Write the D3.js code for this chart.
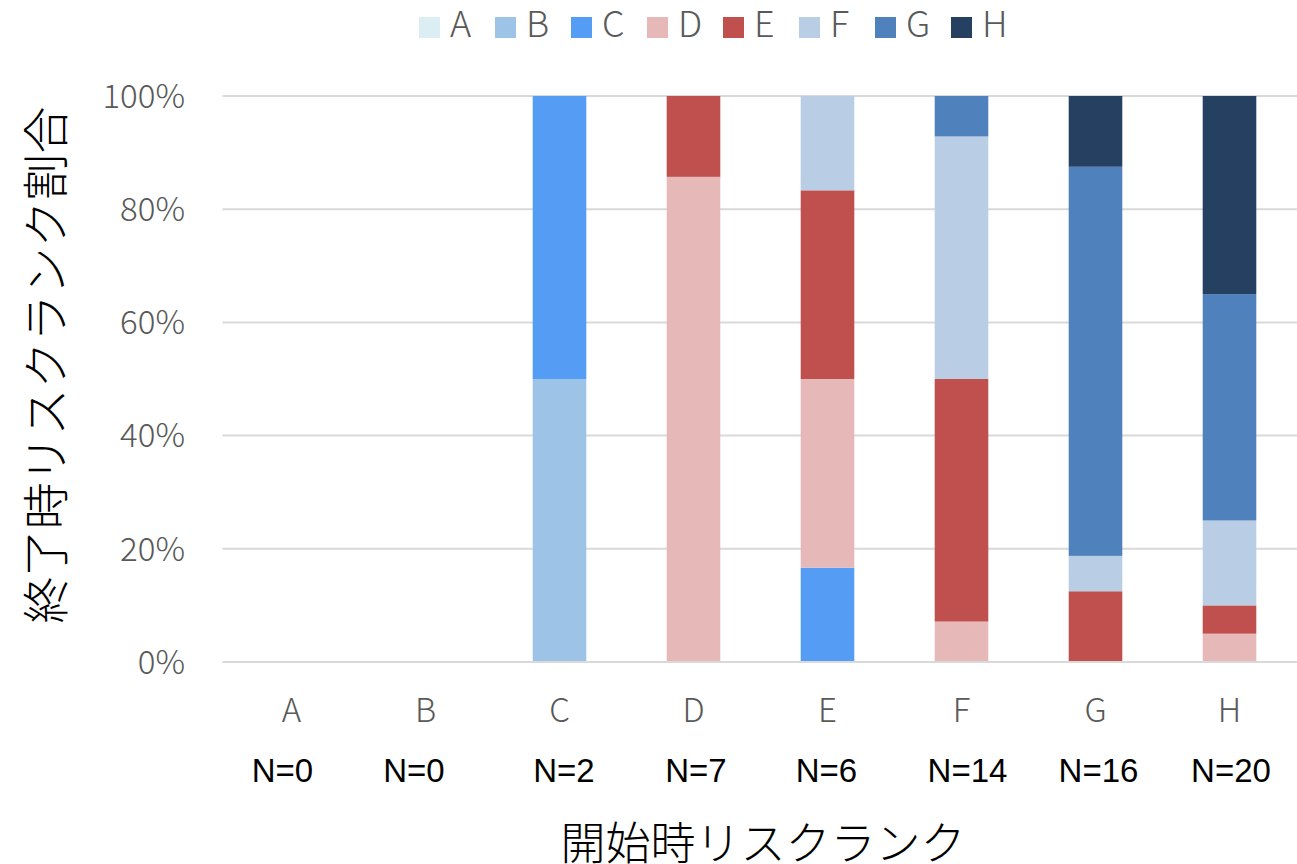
<!DOCTYPE html>
<html>
<head>
<meta charset="utf-8">
<script src="https://cdn.jsdelivr.net/npm/d3@7"></script>
<style>
  html, body { margin: 0; padding: 0; background: #fff; }
  svg { display: block; }
</style>
</head>
<body>
<svg id="chart" width="1297" height="864"></svg>
<script>
// Start-of-period risk rank (x categories) and the end-of-period rank mix
const categories = ["A", "B", "C", "D", "E", "F", "G", "H"];
const nLabels = ["N=0", "N=0", "N=2", "N=7", "N=6", "N=14", "N=16", "N=20"];
const seriesNames = ["A", "B", "C", "D", "E", "F", "G", "H"];
const seriesColors = ["#DAEEF3", "#9DC3E6", "#559DF4", "#E6B9B8", "#C0504D", "#B9CDE5", "#4F81BD", "#254061"];

// Counts of each end rank per start rank
const countA = [0, 0, 0, 0, 0, 0, 0, 0];
const countB = [0, 0, 1, 0, 0, 0, 0, 0];
const countC = [0, 0, 1, 0, 1, 0, 0, 0];
const countD = [0, 0, 0, 6, 2, 1, 0, 1];
const countE = [0, 0, 0, 1, 2, 6, 2, 1];
const countF = [0, 0, 0, 0, 1, 6, 1, 3];
const countG = [0, 0, 0, 0, 0, 1, 11, 8];
const countH = [0, 0, 0, 0, 0, 0, 2, 7];

const yTicks = [0, 0.2, 0.4, 0.6, 0.8, 1.0];
const yTickLabels = ["0%", "20%", "40%", "60%", "80%", "100%"];

const seriesCounts = [countA, countB, countC, countD, countE, countF, countG, countH];

// Build rows of shares for d3.stack
const rows = categories.map((c, i) => {
  const total = seriesCounts.reduce((s, arr) => s + arr[i], 0);
  const row = { cat: c };
  seriesNames.forEach((s, k) => { row[s] = total ? seriesCounts[k][i] / total : 0; });
  return row;
});

const svg = d3.select("#chart");
const plotLeft = 224.5, plotRight = 1296.5, plotTop = 96, plotBottom = 662;

const x = d3.scaleBand().domain(categories).range([plotLeft, plotRight]).paddingInner(0.6).paddingOuter(0.3);
const y = d3.scaleLinear().domain([0, 1]).range([plotBottom, plotTop]);

const tickFont = "'Noto Sans CJK JP', 'Noto Sans', sans-serif";

// gridlines
svg.append("g").selectAll("line").data(yTicks).join("line")
  .attr("x1", plotLeft - 2).attr("x2", 1297)
  .attr("y1", d => y(d)).attr("y2", d => y(d))
  .attr("stroke", "#D9D9D9").attr("stroke-width", 2);

// y tick labels
svg.append("g").selectAll("text").data(yTicks).join("text")
  .attr("x", 185).attr("y", d => y(d))
  .attr("dy", "0.36em")
  .attr("text-anchor", "end")
  .attr("font-family", tickFont).attr("font-weight", 300)
  .attr("font-size", 33).attr("fill", "#595959")
  .text((d, i) => yTickLabels[i]);

// stacked bars
const stack = d3.stack().keys(seriesNames);
const layers = stack(rows);
svg.append("g").selectAll("g").data(layers).join("g")
  .attr("fill", (d, i) => seriesColors[i])
  .selectAll("rect").data(d => d).join("rect")
  .attr("x", d => x(d.data.cat))
  .attr("width", x.bandwidth())
  .attr("y", d => y(d[1]))
  .attr("height", d => Math.max(0, y(d[0]) - y(d[1])));

// baseline
svg.append("line")
  .attr("x1", plotLeft - 2).attr("x2", 1297)
  .attr("y1", y(0)).attr("y2", y(0))
  .attr("stroke", "#D9D9D9").attr("stroke-width", 2);

// category labels
svg.append("g").selectAll("text").data(categories).join("text")
  .attr("x", d => x(d) + x.bandwidth() / 2).attr("y", 722)
  .attr("text-anchor", "middle")
  .attr("font-family", tickFont).attr("font-weight", 300)
  .attr("font-size", 33).attr("fill", "#595959")
  .text(d => d);

// sample-size labels, typed as a row of text under the categories
const nShift = [-9, -11.5, 4.5, 2.5, -1, 6, 3, 1.5];
svg.append("g").selectAll("text").data(categories).join("text")
  .attr("x", (d, i) => x(d) + x.bandwidth() / 2 + nShift[i]).attr("y", 782)
  .attr("text-anchor", "middle")
  .attr("font-family", "'Liberation Sans', Arial, sans-serif")
  .attr("font-size", 33).attr("fill", "#000")
  .text((d, i) => nLabels[i]);

// axis titles
svg.append("text")
  .attr("x", 763).attr("y", 860)
  .attr("text-anchor", "middle")
  .attr("font-family", tickFont).attr("font-weight", 300)
  .attr("font-size", 45).attr("fill", "#000")
  .text("開始時リスクランク");

svg.append("text")
  .attr("transform", "translate(46,365) rotate(-90)")
  .attr("dy", "0.36em")
  .attr("text-anchor", "middle")
  .attr("font-family", tickFont).attr("font-weight", 300)
  .attr("font-size", 47).attr("fill", "#000")
  .text("終了時リスクランク割合");

// legend
const legend = svg.append("g");
const items = legend.selectAll("g").data(seriesNames).join("g")
  .attr("transform", (d, i) => `translate(${419 + i * 76},0)`);
items.append("rect")
  .attr("x", 0).attr("y", 17).attr("width", 21).attr("height", 21)
  .attr("fill", (d, i) => seriesColors[i]);
items.append("text")
  .attr("x", 31).attr("y", 37)
  .attr("font-family", tickFont).attr("font-weight", 300)
  .attr("font-size", 36).attr("fill", "#595959")
  .text(d => d);
</script>
</body>
</html>
